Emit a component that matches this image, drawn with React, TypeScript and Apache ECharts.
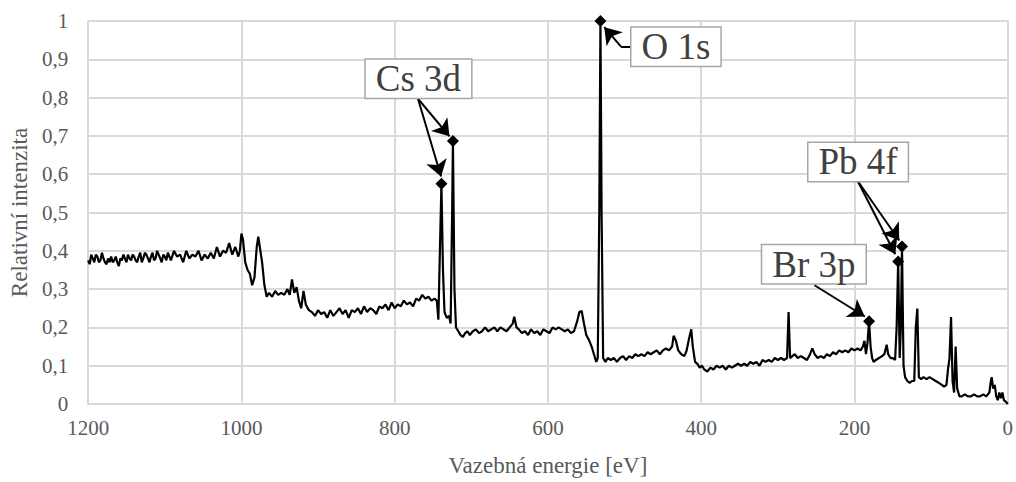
import React, { useEffect, useRef } from "react";
import * as echarts from "echarts";

// Binding energy [eV], relative intensity
const regionHigh: [number, number][] = [
  [1200, 0.375], [1198, 0.365], [1196, 0.39], [1194, 0.38], [1192, 0.37], [1190, 0.39], [1188, 0.385], [1186, 0.37], [1184, 0.375], [1182, 0.395], [1180, 0.38], [1178, 0.37], [1176, 0.365],
  [1174, 0.38], [1172, 0.37], [1170, 0.385], [1168, 0.37], [1166, 0.375], [1164, 0.385], [1162, 0.37], [1160, 0.36], [1158, 0.38], [1156, 0.375], [1154, 0.39], [1152, 0.38], [1150, 0.37], [1148, 0.39],
  [1146, 0.38], [1144, 0.375], [1142, 0.39], [1140, 0.385], [1138, 0.375], [1136, 0.37], [1134, 0.385], [1132, 0.395], [1130, 0.37], [1128, 0.38], [1126, 0.395], [1124, 0.39], [1122, 0.38], [1120, 0.37],
  [1118, 0.385], [1116, 0.395], [1114, 0.375], [1112, 0.38], [1110, 0.4], [1108, 0.39], [1106, 0.38], [1104, 0.37], [1102, 0.39], [1100, 0.385], [1098, 0.375], [1096, 0.395], [1094, 0.385], [1092, 0.375],
  [1088, 0.4], [1084, 0.385], [1080, 0.39], [1076, 0.37], [1072, 0.4], [1068, 0.38], [1064, 0.39],
  [1060, 0.385], [1056, 0.4], [1052, 0.375], [1048, 0.39], [1044, 0.38], [1040, 0.395], [1036, 0.38],
  [1032, 0.41], [1028, 0.385], [1024, 0.4], [1020, 0.395], [1016, 0.42], [1012, 0.39], [1008, 0.41],
  [1004, 0.385], [1002, 0.4], [1000, 0.445], [998, 0.43], [995, 0.37], [992, 0.35], [989, 0.34],
  [986, 0.31], [983, 0.33], [980, 0.41], [978, 0.437], [976, 0.41], [973, 0.37], [970, 0.31],
  [967, 0.28], [964, 0.29], [960, 0.28], [956, 0.295], [952, 0.285], [948, 0.29], [944, 0.285],
  [940, 0.3], [937, 0.285], [934, 0.325], [931, 0.29], [928, 0.305], [925, 0.27], [922, 0.25],
  [919, 0.295], [916, 0.26], [912, 0.245], [908, 0.24], [904, 0.23],
];

const regionCs: [number, number][] = [
  [900, 0.245], [896, 0.235], [892, 0.24], [888, 0.225], [884, 0.245], [880, 0.23], [876, 0.24],
  [872, 0.25], [868, 0.235], [864, 0.245], [860, 0.225], [856, 0.245], [852, 0.24], [848, 0.25],
  [844, 0.235], [840, 0.255], [836, 0.24], [832, 0.25], [828, 0.245], [824, 0.235], [820, 0.255],
  [816, 0.25], [812, 0.26], [808, 0.245], [804, 0.265], [800, 0.25], [796, 0.26], [792, 0.255],
  [788, 0.27], [784, 0.26], [780, 0.265], [776, 0.255], [772, 0.275], [768, 0.27], [764, 0.285],
  [760, 0.275], [756, 0.28], [752, 0.27], [748, 0.275], [745, 0.27], [743, 0.22], [741, 0.4],
  [739, 0.575], [737, 0.35], [735, 0.24], [732, 0.225], [729, 0.23], [727, 0.21], [725, 0.5],
  [724, 0.687], [722, 0.3], [720, 0.2], [717, 0.19], [714, 0.18], [711, 0.175], [708, 0.185],
  [705, 0.19], [702, 0.18], [698, 0.19], [694, 0.195], [690, 0.185], [686, 0.19], [682, 0.2],
  [678, 0.19], [674, 0.195], [670, 0.2], [666, 0.19], [662, 0.2], [658, 0.195], [654, 0.19],
  [650, 0.2], [646, 0.21], [644, 0.228], [641, 0.2], [638, 0.195], [634, 0.185], [630, 0.19],
  [626, 0.18], [622, 0.195], [618, 0.185], [614, 0.19], [610, 0.18], [606, 0.195], [602, 0.19],
  [598, 0.185], [594, 0.2], [590, 0.195], [586, 0.2], [582, 0.195], [578, 0.19], [574, 0.195],
  [570, 0.185], [566, 0.19], [562, 0.215], [559, 0.24], [556, 0.243], [553, 0.21], [550, 0.18],
  [546, 0.165], [543, 0.15], [540, 0.13], [537, 0.11], [535, 0.12],
];

const regionO: [number, number][] = [
  [533, 0.5], [531.5, 1.0], [530, 0.5], [528, 0.12], [525, 0.11], [522, 0.12], [518, 0.115],
  [514, 0.12], [510, 0.11], [506, 0.12], [502, 0.125], [498, 0.115], [494, 0.125], [490, 0.12],
  [486, 0.13], [482, 0.125], [478, 0.13], [474, 0.125], [470, 0.135], [466, 0.13], [462, 0.135],
  [458, 0.14], [454, 0.13], [450, 0.14], [446, 0.145], [442, 0.14], [438, 0.15], [436, 0.178],
  [433, 0.165], [430, 0.14], [426, 0.13], [422, 0.125], [419, 0.14], [416, 0.17], [413, 0.195],
  [411, 0.15], [408, 0.11], [405, 0.105], [402, 0.095], [399, 0.1], [396, 0.09], [392, 0.085],
  [388, 0.095], [384, 0.09], [380, 0.1], [376, 0.095], [372, 0.1], [368, 0.09], [364, 0.1],
  [360, 0.095], [356, 0.1], [352, 0.105], [348, 0.1], [344, 0.105], [340, 0.1], [336, 0.11],
  [332, 0.105], [328, 0.11], [324, 0.1], [320, 0.115], [316, 0.11], [312, 0.115], [308, 0.11],
  [304, 0.12], [300, 0.115], [296, 0.12], [292, 0.115], [288, 0.12],
];

const regionLow: [number, number][] = [
  [286, 0.24], [284, 0.12], [281, 0.125], [278, 0.13], [274, 0.12], [270, 0.125], [266, 0.12],
  [262, 0.115], [258, 0.13], [255, 0.145], [252, 0.13], [248, 0.12], [244, 0.125], [240, 0.12],
  [236, 0.13], [232, 0.125], [228, 0.135], [224, 0.13], [220, 0.14], [216, 0.135], [212, 0.14],
  [208, 0.135], [204, 0.145], [200, 0.14], [196, 0.145], [192, 0.14], [189, 0.15], [187, 0.165],
  [185, 0.13], [183, 0.16], [181, 0.216], [179, 0.15], [177, 0.12], [175, 0.11], [172, 0.115],
  [168, 0.12], [164, 0.125], [161, 0.13], [158, 0.155], [156, 0.13], [153, 0.12], [150, 0.12],
  [147, 0.115], [145, 0.2], [143, 0.372], [141, 0.12], [139.5, 0.2], [138, 0.411], [136, 0.1],
  [134, 0.07], [131, 0.06], [128, 0.055], [125, 0.06], [122, 0.06], [120, 0.2], [118, 0.249],
  [116, 0.07], [113, 0.065], [110, 0.07], [106, 0.065], [102, 0.07], [98, 0.065], [94, 0.06],
  [90, 0.055], [86, 0.05], [83, 0.045], [80, 0.05], [78, 0.09], [76, 0.12], [74, 0.227], [72, 0.06],
  [70, 0.03], [68, 0.15], [66, 0.04], [63, 0.02], [60, 0.02], [56, 0.025], [52, 0.02], [48, 0.02],
  [44, 0.025], [40, 0.02], [36, 0.02], [32, 0.025], [28, 0.02], [24, 0.03], [22, 0.06], [21, 0.07],
  [19, 0.04], [17, 0.05], [15, 0.02], [13, 0.01], [11, 0.03], [9, 0.015], [7, 0.03], [5, 0.01],
  [2, 0.005], [0, 0.0],
];

// Annotated peaks (diamond markers)
const peakMarkers: [number, number][] = [
  [739, 0.575], [724, 0.687], [531.5, 1.0], [181, 0.216], [143, 0.372], [138, 0.411],
];

// Annotation labels: text and box centre [eV, intensity]
const labelTexts = ["Cs 3d", "O 1s", "Pb 4f", "Br 3p"];
const labelCoords: [number, number][] = [[769, 0.849], [433, 0.933], [195.3, 0.632], [253, 0.365]];

// Arrows: start -> end (data coords), last flag = arrowhead
const arrowLines: [number, number, number, number, boolean][] = [
  [769.6, 0.797, 739.5, 0.594, true],
  [769.6, 0.797, 728.5, 0.699, true],
  [491.9, 0.9335, 504.9, 0.9335, false],
  [504.9, 0.9335, 526.5, 0.984, true],
  [196, 0.583, 146.8, 0.391, true],
  [196, 0.583, 141.6, 0.427, true],
  [252.2, 0.31, 186.5, 0.2285, true],
];

const xTicks = { min: 0, max: 1200, interval: 200 };
const yTicks = { min: 0, max: 1, interval: 0.1 };

export default function App() {
  const ref = useRef<HTMLDivElement>(null);
  useEffect(() => {
    document.body.style.margin = "0";
    if (!ref.current) return;
    const chart = echarts.init(ref.current, undefined, { renderer: "svg" });
    const font = "Liberation Serif";
    const grey = "#595959";
    const gridCol = "#d9d9d9";
    const spectrum = [...regionHigh, ...regionCs, ...regionO, ...regionLow];
    chart.setOption({
      animation: false,
      textStyle: { fontFamily: font },
      grid: { left: 87.5, right: 4, top: 21, bottom: 75.3, containLabel: false },
      xAxis: {
        type: "value",
        inverse: true,
        min: xTicks.min,
        max: xTicks.max,
        interval: xTicks.interval,
        name: "Vazebná energie [eV]",
        nameLocation: "middle",
        nameGap: 50,
        nameTextStyle: { fontFamily: font, fontSize: 23, color: grey },
        axisLine: { show: true, lineStyle: { color: gridCol, width: 2 } },
        axisTick: { show: false },
        axisLabel: {
          fontFamily: font,
          fontSize: 21,
          color: grey,
          margin: 13,
          formatter: (v: number) => String(v),
        },
        splitLine: { show: true, lineStyle: { color: gridCol, width: 2 } },
      },
      yAxis: {
        type: "value",
        min: yTicks.min,
        max: yTicks.max,
        interval: yTicks.interval,
        name: "Relativní intenzita",
        nameLocation: "middle",
        nameGap: 55,
        nameTextStyle: { fontFamily: font, fontSize: 23, color: grey },
        axisLine: { show: true, lineStyle: { color: gridCol, width: 2 } },
        axisTick: { show: false },
        axisLabel: {
          fontFamily: font,
          fontSize: 21,
          color: grey,
          margin: 20,
          formatter: (v: number) => String(Math.round(v * 10) / 10).replace(".", ","),
        },
        splitLine: { show: true, lineStyle: { color: gridCol, width: 2 } },
      },
      series: [
        {
          type: "line",
          data: spectrum,
          showSymbol: false,
          lineStyle: { color: "#000", width: 2.2 },
          itemStyle: { color: "#000" },
          z: 3,
        },
        {
          type: "scatter",
          data: peakMarkers,
          symbol: "diamond",
          symbolSize: 12,
          itemStyle: { color: "#000", opacity: 1 },
          z: 4,
          markLine: {
            silent: true,
            symbol: ["none", "arrow"],
            symbolSize: 16,
            label: { show: false },
            lineStyle: { color: "#000", width: 2, type: "solid", opacity: 1 },
            itemStyle: { color: "#000" },
            data: arrowLines.map(([x1, y1, x2, y2, head]) => [
              { coord: [x1, y1], symbol: "none", symbolSize: 16 },
              { coord: [x2, y2], symbol: head ? "arrow" : "none", symbolSize: 16 },
            ]),
            z: 5,
          },
          markPoint: {
            silent: true,
            symbol: "rect",
            symbolSize: 1,
            itemStyle: { color: "rgba(0,0,0,0)" },
            label: {
              show: true,
              position: "inside",
              formatter: (p: any) => p.name,
              fontFamily: font,
              fontSize: 37,
              color: "#404040",
              backgroundColor: "#fff",
              borderColor: "#a6a6a6",
              borderWidth: 1.5,
              padding: [1, 10, 0, 10],
              lineHeight: 37,
            },
            data: labelTexts.map((t, i) => ({ name: t, coord: labelCoords[i] })),
            z: 6,
          },
        },
      ],
    });
    return () => chart.dispose();
  }, []);
  return <div ref={ref} style={{ width: 1016, height: 482 }} />;
}
